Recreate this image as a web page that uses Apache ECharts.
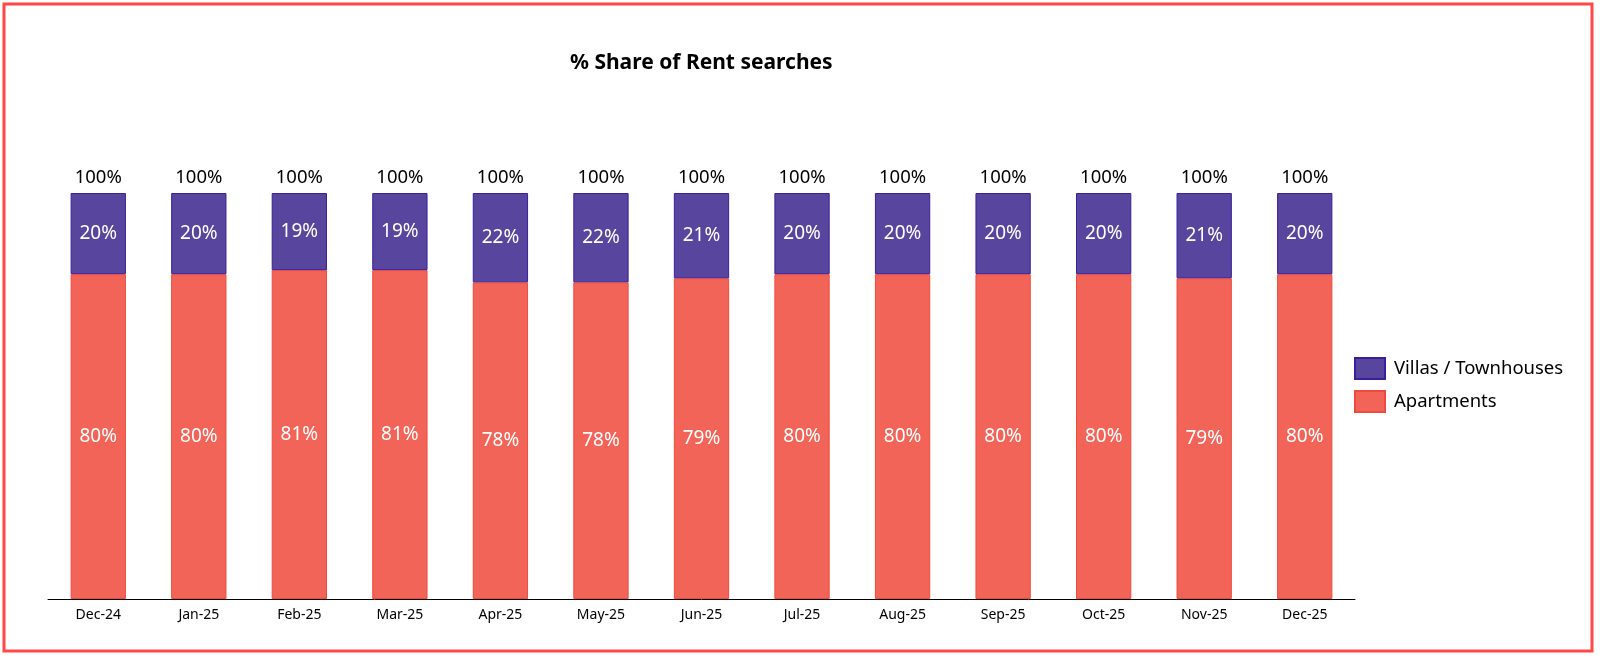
<!DOCTYPE html>
<html>
<head>
<meta charset="utf-8">
<title>% Share of Rent searches</title>
<script src="https://cdn.jsdelivr.net/npm/echarts@6/dist/echarts.min.js"></script>
<style>
  html, body { margin: 0; padding: 0; background: #fff; }
  #chart { width: 1600px; height: 659px; }
</style>
</head>
<body>
<div id="chart"></div>
<script>
var months = ['Dec-24', 'Jan-25', 'Feb-25', 'Mar-25', 'Apr-25', 'May-25', 'Jun-25',
  'Jul-25', 'Aug-25', 'Sep-25', 'Oct-25', 'Nov-25', 'Dec-25'];
var apartments = [80, 80, 81, 81, 78, 78, 79, 80, 80, 80, 80, 79, 80];
var villas = [20, 20, 19, 19, 22, 22, 21, 20, 20, 20, 20, 21, 20];
var totals = [100, 100, 100, 100, 100, 100, 100, 100, 100, 100, 100, 100, 100];

var FONT = '"Noto Sans", "Open Sans", sans-serif';
var chart = echarts.init(document.getElementById('chart'));

var option = {
  animation: false,
  textStyle: { fontFamily: FONT },
  title: {
    text: '% Share of Rent searches',
    left: 565,
    top: 48,
    textStyle: { fontFamily: FONT, fontSize: 21, fontWeight: 'bold', color: '#000' }
  },
  legend: {
    orient: 'vertical',
    left: 1349,
    top: 352,
    icon: 'rect',
    itemWidth: 30,
    itemHeight: 21,
    itemGap: 10,
    data: ['Villas / Townhouses', 'Apartments'],
    textStyle: { fontFamily: FONT, fontSize: 18.5, color: '#000', padding: [0, 0, 0, 4] }
  },
  grid: { left: 48, right: 245, top: 193, bottom: 60 },
  xAxis: {
    type: 'category',
    data: months,
    axisTick: { show: false },
    axisLine: { lineStyle: { color: '#000', width: 1 } },
    axisLabel: { fontFamily: FONT, fontSize: 14, color: '#000', margin: 9 }
  },
  yAxis: {
    type: 'value',
    min: 0,
    max: 100,
    show: false,
    splitLine: { show: false }
  },
  graphic: [{
    type: 'rect',
    shape: { x: 4, y: 4, width: 1588, height: 647 },
    style: { fill: 'none', stroke: '#ff4848', lineWidth: 3 },
    silent: true
  }],
  series: [{
    name: 'Apartments',
    type: 'bar',
    stack: 'share',
    data: apartments,
    barCategoryGap: '45%',
    itemStyle: { color: '#f26457', borderColor: '#f04a3e', borderWidth: 1 },
    label: {
      show: true,
      position: 'inside',
      color: '#fff',
      fontFamily: FONT,
      fontSize: 19,
      formatter: '{c}%'
    }
  }, {
    name: 'Villas / Townhouses',
    type: 'bar',
    stack: 'share',
    data: villas,
    itemStyle: { color: '#58459d', borderColor: '#3a1e9c', borderWidth: 1 },
    label: {
      show: true,
      position: 'inside',
      color: '#fff',
      fontFamily: FONT,
      fontSize: 19,
      formatter: '{c}%'
    }
  }, {
    name: 'Total',
    type: 'bar',
    data: totals,
    barGap: '-100%',
    z: 1,
    itemStyle: { color: 'rgba(0,0,0,0)' },
    label: {
      show: true,
      position: 'top',
      distance: 6,
      color: '#000',
      fontFamily: FONT,
      fontSize: 18.5,
      formatter: '{c}%'
    }
  }]
};

chart.setOption(option);
</script>
</body>
</html>
